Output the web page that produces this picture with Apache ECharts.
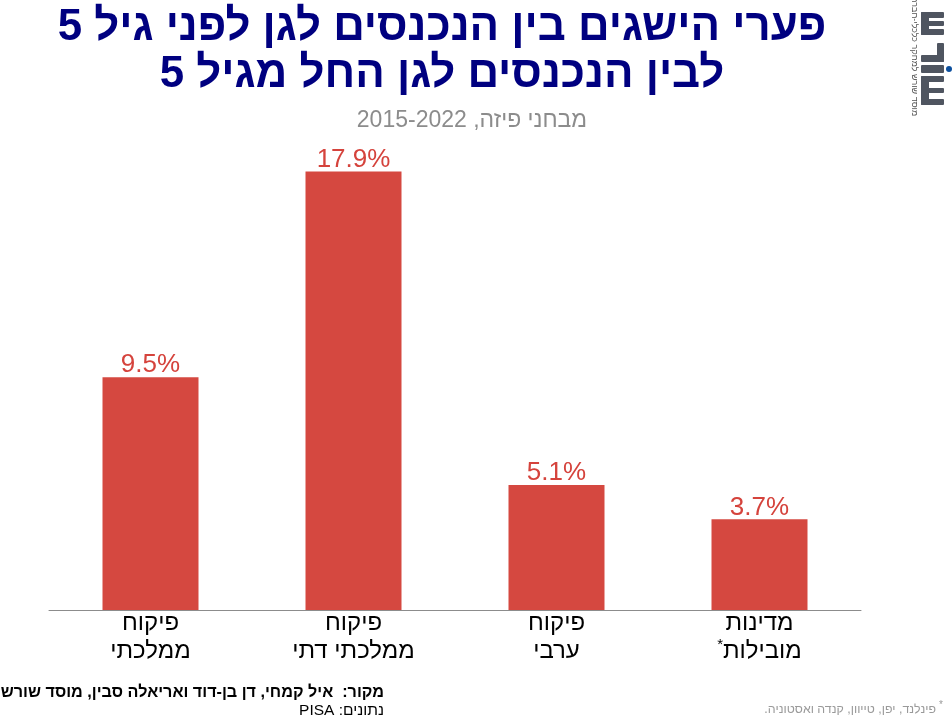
<!DOCTYPE html>
<html dir="rtl">
<head>
<meta charset="utf-8">
<style>
  html, body { margin: 0; background: #fff; }
  #chart { width: 952px; height: 720px; }
</style>
<script src="https://cdn.jsdelivr.net/npm/echarts@6/dist/echarts.min.js"></script>
</head>
<body>
<div id="chart"></div>
<script>
const categories = ["פיקוח\nממלכתי", "פיקוח\nממלכתי דתי", "פיקוח\nערבי", "מדינות\nמובילות*"];
const gaps = [9.5, 17.9, 5.1, 3.7];
const titleLines = ["פערי הישגים בין הנכנסים לגן לפני גיל 5", "לבין הנכנסים לגן החל מגיל 5"];
const subtitle = "מבחני פיזה, 2015-2022";
const sourceLine = "מקור:  איל קמחי, דן בן-דוד ואריאלה סבין, מוסד שורש";
const dataLine = "נתונים: PISA";
const footnote = "פינלנד, יפן, טייוון, קנדה ואסטוניה.";
const sideNote = "מוסד שורש למחקר כלכלי-חברתי";

const font = '"Liberation Sans", Arial, sans-serif';
const logoColor = "#4f5560";
const myChart = echarts.init(document.getElementById("chart"), null, { renderer: "canvas" });

function label(x, y, text, size, color, weight, align) {
  return {
    type: "text", x, y,
    style: { text, font: (weight || "normal") + " " + size + "px " + font, fill: color, align: align || "center", verticalAlign: "middle" }
  };
}

// לוגו - צורות פשוטות
function logoBar(x, y, width, height) {
  return { type: "rect", shape: { x, y, width, height, r: 1 }, style: { fill: logoColor } };
}

function logoComb(y, height) {
  return [
    logoBar(921, y, 8, height),
    logoBar(921, y, 23, 6),
    logoBar(921, y + Math.round(height / 2) - 3, 23, 5),
    logoBar(921, y + height - 6, 23, 6)
  ];
}

myChart.setOption({
  animation: false,
  grid: { left: 49, right: 91, top: 120, height: 490 },
  xAxis: {
    type: "category",
    data: categories,
    axisTick: { show: false },
    axisLine: { lineStyle: { color: "#8c8c8c", width: 1 } },
    axisLabel: {
      color: "#000", fontFamily: font, fontSize: 24, lineHeight: 28, margin: -1, interval: 0,
      formatter: v => v.replace(/(.*)\*$/m, "{star|*}$1"),
      rich: { star: { fontSize: 15, lineHeight: 28, fontFamily: font, color: "#000", verticalAlign: "top" } }
    }
  },
  yAxis: { type: "value", min: 0, max: 20, show: false },
  series: [{
    type: "bar",
    data: gaps,
    barWidth: 96,
    itemStyle: { color: "#d54840" },
    label: {
      show: true,
      position: "top",
      distance: -1,
      color: "#d5433c",
      fontFamily: font,
      fontSize: 26,
      formatter: p => p.value.toFixed(1) + "%"
    }
  }],
  graphic: [
    label(442, 28, titleLines[0], 43.8, "#000080", "bold"),
    label(442, 75, titleLines[1], 43.8, "#000080", "bold"),
    label(472, 121, subtitle, 23, "#8c8c8c"),
    label(384, 693, sourceLine, 16.2, "#000", "bold", "right"),
    label(384, 711, dataLine, 15.5, "#000", "normal", "right"),
    label(936, 710, footnote, 12.4, "#9a9a9a", "normal", "right"),
    label(941, 705, "*", 10, "#9a9a9a"),
    { type: "text", x: 914, y: 55, rotation: -Math.PI / 2,
      style: { text: sideNote, font: "9px " + font, fill: "#555", align: "center", verticalAlign: "middle" } },
    ...logoComb(12, 23),
    logoBar(937, 43, 7, 19),
    logoBar(921, 55, 23, 7),
    logoBar(921, 65, 23, 8),
    { type: "circle", shape: { cx: 949, cy: 69, r: 3 }, style: { fill: "#0b4f9e" } },
    ...logoComb(76, 29)
  ]
});
</script>
</body>
</html>
